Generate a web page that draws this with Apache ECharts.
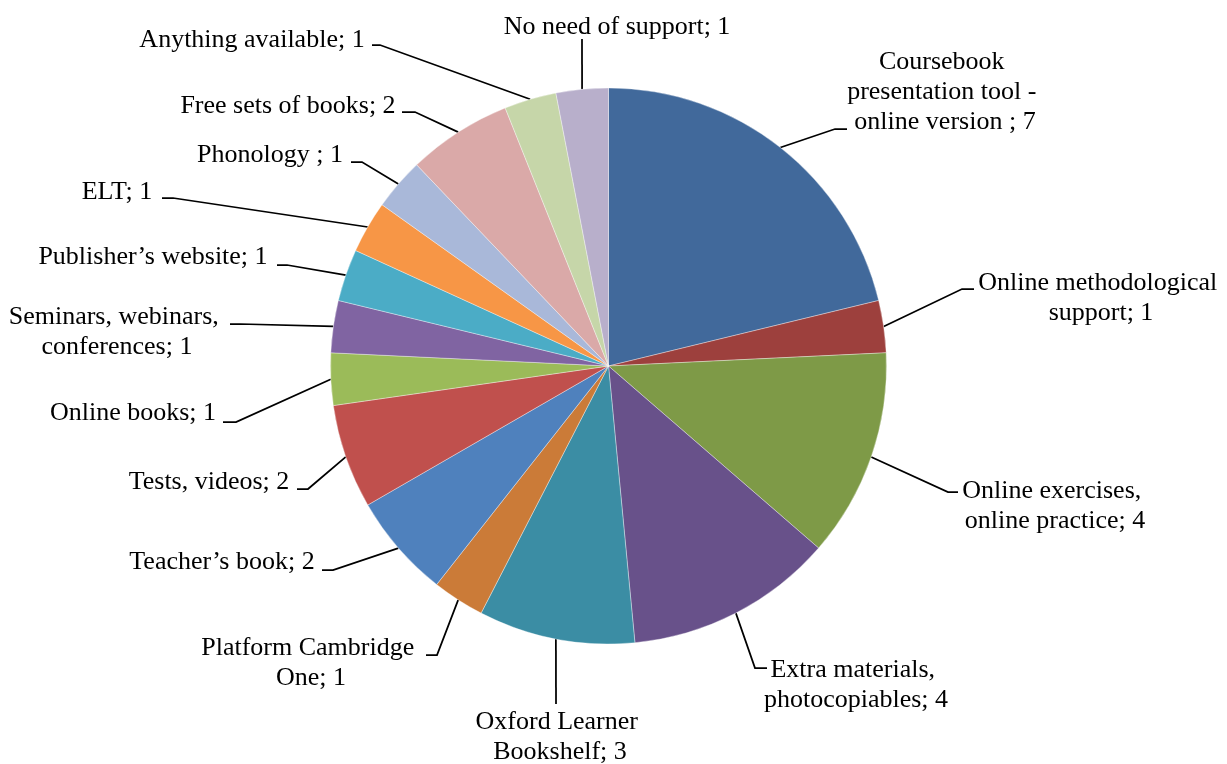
<!DOCTYPE html>
<html>
<head>
<meta charset="utf-8">
<script src="https://cdn.jsdelivr.net/npm/echarts@6/dist/echarts.min.js"></script>
<style>
  html, body { margin: 0; padding: 0; background: #fff; }
  #chart { width: 1227px; height: 764px; }
</style>
</head>
<body>
<div id="chart"></div>
<script>
// ---- data ----
var categories = [
  'Coursebook presentation tool - online version ',
  'Online methodological support',
  'Online exercises, online practice',
  'Extra materials, photocopiables',
  'Oxford Learner Bookshelf',
  'Platform Cambridge One',
  'Teacher\u2019s book',
  'Tests, videos',
  'Online books',
  'Seminars, webinars, conferences',
  'Publisher\u2019s website',
  'ELT',
  'Phonology ',
  'Free sets of books',
  'Anything available',
  'No need of support'
];
var values = [7, 1, 4, 4, 3, 1, 2, 2, 1, 1, 1, 1, 1, 2, 1, 1];

// ---- styles ----
var colors = [
  '#41699B', '#9D403D', '#7E9A47', '#68518A', '#3B8DA4', '#CB7B38',
  '#4F81BD', '#C0504D', '#9BBB59', '#8064A2', '#4BACC6', '#F79646',
  '#A9B8D9', '#DAA9A8', '#C6D6A9', '#B8AFCB'
];
// wrap widths for label text (px), null = single line
var wrapWidths = [200, 250, 195, 195, 175, 225, null, null, null, 220, null, null, null, null, null, null];
// label text centre (tx,ty), leader elbow (ex,ey), leader end (lx,ly)
var labelPlacement = [
  {tx: 945, ty: 92,  ex: 835, ey: 129, lx: 847, ly: 129},
  {tx: 1101, ty: 298, ex: 962, ey: 289, lx: 974, ly: 289},
  {tx: 1055, ty: 506, ex: 948, ey: 492, lx: 958, ly: 492},
  {tx: 856, ty: 685, ex: 755, ey: 668, lx: 767, ly: 668},
  {tx: 560, ty: 737, ex: 556, ey: 704, lx: 556, ly: 704},
  {tx: 311, ty: 663, ex: 437, ey: 655, lx: 426, ly: 655},
  {tx: 222, ty: 562, ex: 333, ey: 570, lx: 322, ly: 570},
  {tx: 209, ty: 482, ex: 308, ey: 489, lx: 297, ly: 489},
  {tx: 133, ty: 413, ex: 236, ey: 422, lx: 223, ly: 422},
  {tx: 117, ty: 332, ex: 240, ey: 324, lx: 230, ly: 324},
  {tx: 153, ty: 257, ex: 287, ey: 265, lx: 277, ly: 265},
  {tx: 117, ty: 192, ex: 173, ey: 198, lx: 162, ly: 198},
  {tx: 270, ty: 155, ex: 362, ey: 162, lx: 351, ly: 162},
  {tx: 288, ty: 106, ex: 415, ey: 112, lx: 402, ly: 112},
  {tx: 252, ty: 40,  ex: 380, ey: 45,  lx: 372, ly: 45},
  {tx: 617, ty: 27,  ex: 582, ey: 39,  lx: 582, ly: 39}
];

var chart = echarts.init(document.getElementById('chart'), null, {renderer: 'canvas'});

var seriesData = categories.map(function (name, i) {
  var item = {name: name, value: values[i], itemStyle: {color: colors[i]}};
  if (wrapWidths[i]) {
    item.label = {width: wrapWidths[i], overflow: 'break'};
  }
  return item;
});

chart.setOption({
  backgroundColor: '#ffffff',
  animation: false,
  series: [{
    type: 'pie',
    center: [608.5, 366],
    radius: [0, 278],
    startAngle: 90,
    clockwise: true,
    avoidLabelOverlap: false,
    data: seriesData,
    itemStyle: {borderColor: 'rgba(255,255,255,0.6)', borderWidth: 0.6},
    label: {
      show: true,
      position: 'outside',
      formatter: '{b}; {c}',
      fontFamily: '"Liberation Serif", "Times New Roman", serif',
      fontSize: 26,
      lineHeight: 30,
      color: '#000',
      align: 'center'
    },
    labelLine: {
      show: true,
      length: 20,
      length2: 10,
      lineStyle: {color: '#000', width: 1.75}
    },
    emphasis: {disabled: true},
    labelLayout: function (params) {
      var p = labelPlacement[params.dataIndex];
      var start = params.labelLinePoints ? params.labelLinePoints[0] : [p.ex, p.ey];
      return {
        x: p.tx,
        y: p.ty,
        align: 'center',
        verticalAlign: 'middle',
        labelLinePoints: [start, [p.ex, p.ey], [p.lx, p.ly]]
      };
    }
  }]
});
</script>
</body>
</html>
